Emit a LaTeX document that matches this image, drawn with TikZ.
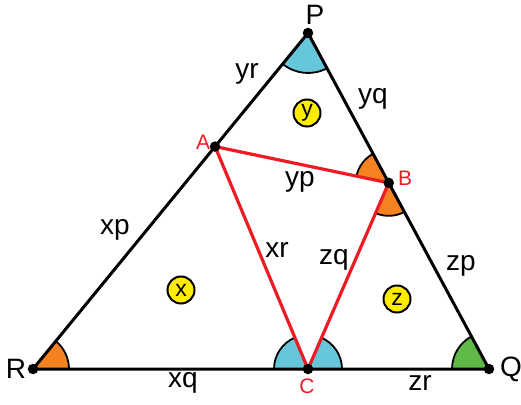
\documentclass[tikz,border=0pt]{standalone}
\usepackage{fontspec}
\setmainfont{Liberation Sans}
\usetikzlibrary{calc,angles}
\definecolor{angcyan}{RGB}{102,199,218}
\definecolor{angorange}{RGB}{245,130,32}
\definecolor{anggreen}{RGB}{95,185,70}
\definecolor{segred}{RGB}{237,28,36}
\definecolor{areayellow}{RGB}{255,236,0}

\begin{document}
\begin{tikzpicture}[x=1pt, y=1pt,
    side/.style={line width=3pt, line cap=round},
    cevian/.style={segred, line width=3.2pt},
    vert/.style={circle, fill=black, inner sep=0pt, minimum size=10.5pt},
    sector/.style={draw=black, line width=1.8pt},
    seglabel/.style={font=\fontsize{28}{32}\selectfont, inner sep=0pt},
    ptlabel/.style={font=\fontsize{28}{32}\selectfont, inner sep=0pt},
    redlabel/.style={font=\fontsize{21}{24}\selectfont, text=segred, inner sep=0pt},
    region/.style={circle, draw=black, line width=2pt, fill=areayellow,
                   minimum size=27pt, inner sep=0pt, font=\fontsize{23}{26}\selectfont}]
  \useasboundingbox (0,0) rectangle (521,404);

  % ---- corners of the big triangle and the inner points ----
  \coordinate (P) at (308,371);
  \coordinate (R) at (33,35);
  \coordinate (Q) at (489,35);
  \coordinate (C) at (308,35);
  \coordinate (A) at ($(P)!0.338!(R)$);
  \coordinate (B) at ($(P)!0.446!(Q)$);

  % ---- angle marks ----
  \pic[sector, fill=angcyan, angle radius=40pt] {angle=R--P--Q};
  \pic[sector, fill=angorange, angle radius=36pt] {angle=Q--R--P};
  \pic[sector, fill=anggreen, angle radius=37pt] {angle=P--Q--R};
  \pic[sector, fill=angcyan, angle radius=34pt] {angle=A--C--R};
  \pic[sector, fill=angcyan, angle radius=34pt] {angle=Q--C--B};
  \pic[sector, fill=angorange, angle radius=33pt] {angle=P--B--A};
  \pic[sector, fill=angorange, angle radius=33pt] {angle=C--B--Q};

  % ---- triangles ----
  \draw[side] (P) -- (R) -- (Q) -- cycle;
  \draw[cevian, line join=round] (A) -- (B) -- (C) -- cycle;

  \foreach \v in {P,R,Q,A,B,C}
    \node[vert] (dot\v) at (\v) {};

  % ---- vertex labels ----
  \node[ptlabel] (labP) at (315,389) {P};
  \node[ptlabel] (labR) at (16,35) {R};
  \node[ptlabel] (labQ) at (511,35) {Q};
  \node[redlabel] (labA) at (203,262) {A};
  \node[redlabel] (labB) at (405,226) {B};
  \node[redlabel] (labC) at (307,18) {C};

  % ---- side pieces ----
  \node[seglabel] (yr) at (247,330) {yr};
  \node[seglabel] (yq) at (373,305) {yq};
  \node[seglabel] (yp) at (300,222) {yp};
  \node[seglabel] (xp) at (115,174) {xp};
  \node[seglabel] (xr) at (277,154) {xr};
  \node[seglabel] (zq) at (334,144) {zq};
  \node[seglabel] (zp) at (461,138) {zp};
  \node[seglabel] (xq) at (183,21) {xq};
  \node[seglabel] (zr) at (420,21) {zr};

  % ---- regions ----
  \node[region] (regx) at (181,114) {x};
  \node[region] (regy) at (307,291) {y};
  \node[region] (regz) at (397,105) {z};
\end{tikzpicture}
\end{document}
